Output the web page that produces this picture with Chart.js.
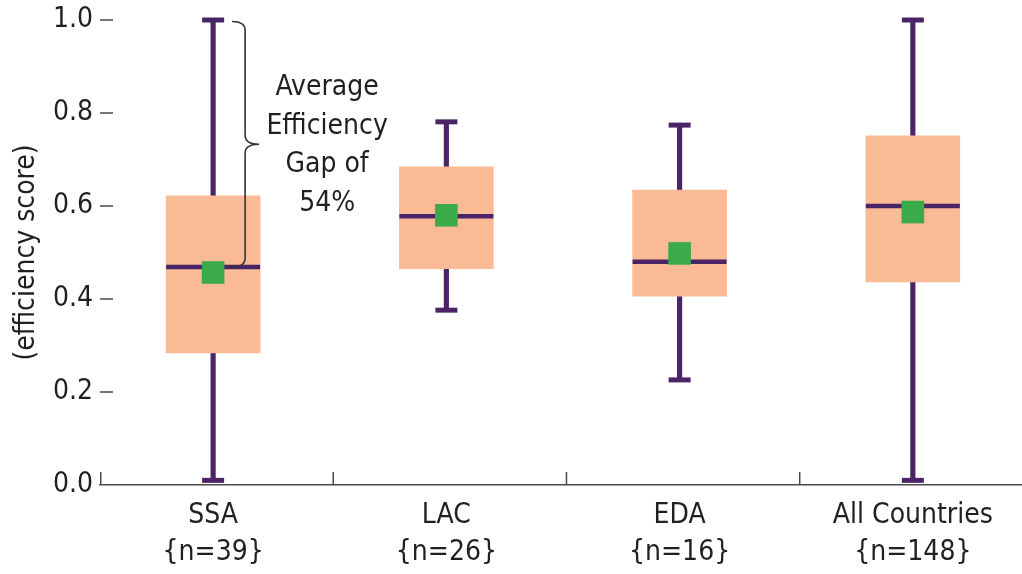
<!DOCTYPE html>
<html>
<head>
<meta charset="utf-8">
<script src="https://cdn.jsdelivr.net/npm/chart.js@4.4.1/dist/chart.umd.min.js"></script>
<style>
  html, body { margin: 0; padding: 0; background: #ffffff; }
  #wrap { width: 1022px; height: 574px; position: relative; }
</style>
</head>
<body>
<div id="wrap"><canvas id="c"></canvas></div>
<script>
// ---- data ----
const categories   = ['SSA', 'LAC', 'EDA', 'All Countries'];
const sampleSizes  = ['{n=39}', '{n=26}', '{n=16}', '{n=148}'];
const whiskerMin   = [0.010, 0.376, 0.226, 0.010];
const quartile1    = [0.284, 0.465, 0.406, 0.437];
const medianVals   = [0.469, 0.578, 0.480, 0.600];
const meanVals     = [0.457, 0.580, 0.498, 0.587];
const quartile3    = [0.622, 0.684, 0.634, 0.751];
const whiskerMax   = [1.000, 0.781, 0.774, 1.000];
const yTickValues  = [0, 0.2, 0.4, 0.6, 0.8, 1.0];
const yAxisTitle   = '(efficiency score)';
const noteLines    = ['Average', 'Efficiency', 'Gap of', '54%'];

const FONT = "'Liberation Sans Narrow', 'Arial Narrow', 'DejaVu Sans Condensed', sans-serif";
const TEXT = '#231f20';
const AXIS = '#4a4a4a';
const PURPLE = '#4a2467';
const PEACH = '#f9ba95';
const GREEN = '#3aab48';

const idx = categories.map((_, i) => i);
const pts = arr => arr.map((v, i) => ({ x: i, y: v }));
const ranges = (a, b) => a.map((v, i) => ({ x: i, y: [v, b[i]] }));

const innerTicks = {
  id: 'innerTicks',
  afterDatasetsDraw(chart) {
    const { ctx, chartArea, scales: { x, y } } = chart;
    ctx.save();
    ctx.strokeStyle = AXIS;
    ctx.lineWidth = 1.5;
    const y0 = y.getPixelForValue(0);
    ctx.beginPath();
    yTickValues.forEach(v => {
      if (v === 0) {
        ctx.moveTo(chartArea.left + 0.75, y0);
        ctx.lineTo(chartArea.left + 0.75, y0 - 13);
      } else {
        const py = y.getPixelForValue(v);
        ctx.moveTo(chartArea.left, py);
        ctx.lineTo(chartArea.left + 13, py);
      }
    });
    for (let i = 0; i < categories.length - 1; i++) {
      const px = x.getPixelForValue(i + 0.515);
      ctx.moveTo(px, y0);
      ctx.lineTo(px, y0 - 13);
    }
    ctx.stroke();

    // brace annotation next to the first box
    const cx = x.getPixelForValue(0);
    const yTop = y.getPixelForValue(whiskerMax[0]) + 1.5;
    const yBot = y.getPixelForValue(medianVals[0]);
    const yMid = (yTop + yBot) / 2;
    const tip = cx + 19, vx = cx + 32, px = cx + 46, r = 9;
    ctx.strokeStyle = '#333333';
    ctx.lineWidth = 1.6;
    ctx.beginPath();
    ctx.moveTo(tip, yTop);
    ctx.quadraticCurveTo(vx, yTop, vx, yTop + r);
    ctx.lineTo(vx, yMid - r);
    ctx.quadraticCurveTo(vx, yMid, px, yMid);
    ctx.quadraticCurveTo(vx, yMid, vx, yMid + r);
    ctx.lineTo(vx, yBot - r);
    ctx.quadraticCurveTo(vx, yBot, tip, yBot);
    ctx.stroke();

    ctx.fillStyle = TEXT;
    ctx.font = '28px ' + FONT;
    ctx.textAlign = 'center';
    ctx.textBaseline = 'middle';
    const tx = cx + 114;
    noteLines.forEach((t, k) => {
      ctx.fillText(t, tx, y.getPixelForValue(1.0) + 68 + k * 38.5);
    });
    ctx.restore();
  }
};

new Chart(document.getElementById('c'), {
  type: 'bar',
  data: {
    datasets: [
      { type: 'scatter', label: 'mean', data: pts(meanVals), pointStyle: 'rect', clip: false,
        pointRadius: 16, pointHoverRadius: 16, backgroundColor: GREEN, borderWidth: 0, order: 0 },
      { type: 'scatter', label: 'median', data: pts(medianVals), pointStyle: 'line', clip: false,
        pointRadius: 47, pointHoverRadius: 47, borderColor: PURPLE, borderWidth: 4.5, order: 1 },
      { type: 'scatter', label: 'caps', data: pts(whiskerMin).concat(pts(whiskerMax)), pointStyle: 'line', clip: false,
        pointRadius: 11, pointHoverRadius: 11, borderColor: PURPLE, borderWidth: 5, order: 2 },
      { type: 'bar', label: 'box', data: ranges(quartile1, quartile3), backgroundColor: PEACH,
        borderWidth: 0, barThickness: 94, grouped: false, order: 3 },
      { type: 'bar', label: 'whisker', data: ranges(whiskerMin, whiskerMax), backgroundColor: PURPLE,
        borderWidth: 0, barThickness: 4.5, grouped: false, order: 4 }
    ]
  },
  options: {
    responsive: true,
    maintainAspectRatio: false,
    animation: false,
    layout: { autoPadding: false, padding: { top: 20, right: 0, left: 0, bottom: 0 } },
    plugins: { legend: { display: false }, tooltip: { enabled: false } },
    scales: {
      x: {
        type: 'linear',
        offset: false,
        min: -0.485,
        max: 3.468,
        grid: { display: true, drawOnChartArea: false, drawTicks: false },
        border: { display: true, color: AXIS, width: 1.5 },
        afterBuildTicks: s => { s.ticks = idx.map(i => ({ value: i })); },
        afterFit: s => { s.height = 89; s.paddingLeft = 0; s.paddingRight = 0; },
        ticks: {
          autoSkip: false, maxRotation: 0, padding: 12, color: TEXT,
          font: { family: FONT, size: 28, lineHeight: 1.32 },
          callback: v => [categories[v], sampleSizes[v]]
        }
      },
      y: {
        min: 0,
        max: 1,
        grid: { display: true, drawOnChartArea: false, drawTicks: false },
        border: { display: false },
        afterBuildTicks: s => { s.ticks = yTickValues.map(v => ({ value: v })); },
        afterFit: s => { s.width = 100; s.paddingTop = 0; s.paddingBottom = 0; },
        ticks: {
          padding: 7, color: TEXT,
          font: { family: FONT, size: 28 },
          callback: v => Number(v).toFixed(1)
        },
        title: {
          display: true, text: yAxisTitle, color: TEXT,
          font: { family: FONT, size: 28 }, padding: { top: 10, bottom: 0 }
        }
      }
    }
  },
  plugins: [innerTicks]
});
</script>
</body>
</html>
